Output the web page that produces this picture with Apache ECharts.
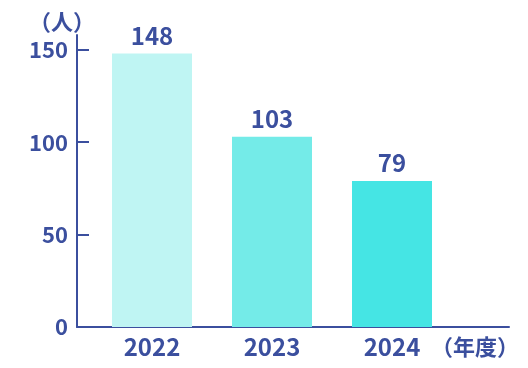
<!DOCTYPE html>
<html><head><meta charset="utf-8">
<script src="https://cdn.jsdelivr.net/npm/echarts@6/dist/echarts.min.js"></script>
<style>html,body{margin:0;padding:0;background:#fff}#c{width:528px;height:368px}</style>
</head><body><div id="c"></div>
<script>
const categories = ['2022', '2023', '2024'];
const values = [148, 103, 79];
const barColors = ['#bff5f3', '#74ebe8', '#45e5e4'];
const yTicks = [0, 50, 100, 150];
const blue = '#3b4f9e';
const font = '"Noto Sans CJK JP", "Noto Sans", sans-serif';
const chart = echarts.init(document.getElementById('c'));
chart.setOption({
  animation: false,
  grid: { left: 77, right: 19, top: 35, bottom: 41, containLabel: false, outerBoundsMode: 'none' },
  xAxis: {
    type: 'value', min: -0.625, max: 2.975,
    name: '（年度）', nameLocation: 'end', nameGap: 10,
    nameTextStyle: { color: blue, fontSize: 22, fontWeight: 'bold', fontFamily: font, align: 'right', verticalAlign: 'top', padding: [9, 0, 0, 0] },
    axisLine: { show: true, onZero: false, lineStyle: { color: blue, width: 2 } },
    axisTick: { show: false },
    splitLine: { show: false },
    axisLabel: {
      customValues: categories.map((_, i) => i),
      formatter: v => categories[Math.round(v)] || '',
      color: blue, fontSize: 24, fontWeight: 'bold', fontFamily: font, margin: 8
    }
  },
  yAxis: {
    type: 'value', min: 0, max: 158,
    name: '（人）', nameLocation: 'end', nameGap: 2,
    nameTextStyle: { color: blue, fontSize: 22, fontWeight: 'bold', fontFamily: font, align: 'center', padding: [0, 0, 0, -30] },
    axisLine: { show: true, onZero: false, lineStyle: { color: blue, width: 2 } },
    axisTick: { show: true, inside: true, length: 12, customValues: yTicks, lineStyle: { color: blue, width: 2 } },
    splitLine: { show: false },
    axisLabel: { customValues: yTicks, color: blue, fontSize: 22, fontWeight: 'bold', fontFamily: font, margin: 9 }
  },
  series: [{
    type: 'bar', barWidth: 80,
    data: values.map((v, i) => ({ value: [i, v], itemStyle: { color: barColors[i] } })),
    label: { show: true, position: 'top', distance: 6, color: blue, fontSize: 24, fontWeight: 'bold', fontFamily: font,
      formatter: p => p.value[1] }
  }]
});
</script></body></html>
